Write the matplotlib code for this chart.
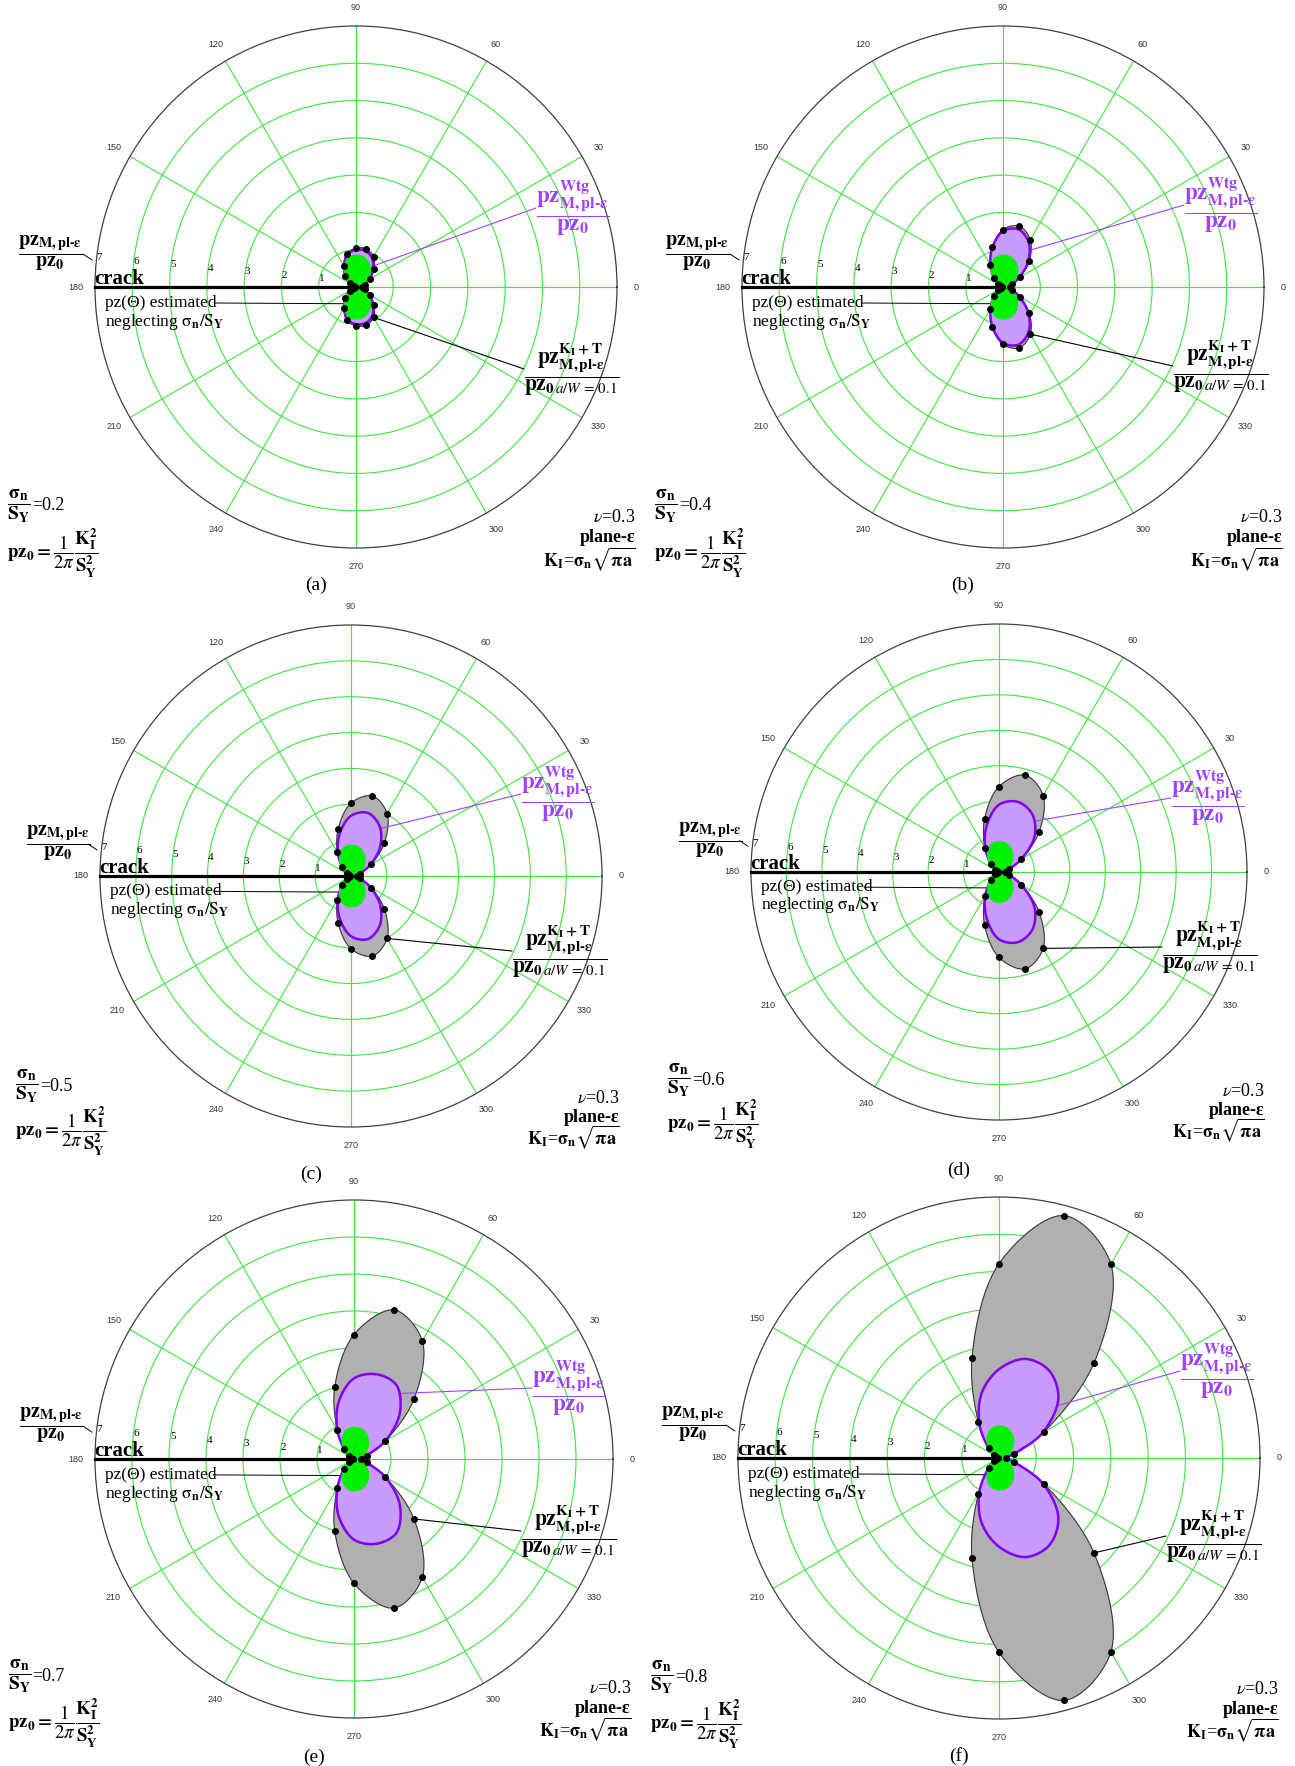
import numpy as np
import matplotlib
matplotlib.use('Agg')
import matplotlib.pyplot as plt

plt.rcParams['font.family'] = ['Liberation Serif', 'DejaVu Serif']
plt.rcParams['mathtext.fontset'] = 'stix'

W, H = 1295, 1766

# sampled angles (upper half, the lower half is the mirror image)
theta_deg = [0, 15, 30, 45, 60, 75, 90, 105, 120, 135, 150, 165, 180]

# pz(theta) estimated neglecting sigma_n/S_Y, same in every panel
green_r = [0.16, 0.22, 0.36, 0.54, 0.71, 0.82, 0.85, 0.80, 0.62, 0.40, 0.20, 0.06, 0.00]

# Westergaard plastic zone pz_Wtg / pz0
wtg_a = [0.17, 0.23, 0.40, 0.63, 0.88, 1.00, 1.00, 0.90, 0.63, 0.38, 0.18, 0.06, 0.03]
wtg_b = [0.18, 0.25, 0.50, 0.95, 1.38, 1.60, 1.50, 1.10, 0.67, 0.33, 0.14, 0.06, 0.03]
wtg_c = [0.17, 0.26, 0.63, 1.15, 1.60, 1.82, 1.68, 1.22, 0.72, 0.33, 0.14, 0.06, 0.03]
wtg_d = [0.17, 0.29, 0.73, 1.42, 1.88, 2.05, 1.90, 1.35, 0.78, 0.32, 0.14, 0.06, 0.03]
wtg_e = [0.18, 0.35, 0.98, 1.75, 2.30, 2.37, 2.18, 1.60, 0.90, 0.37, 0.15, 0.07, 0.03]
wtg_f = [0.20, 0.42, 1.35, 2.25, 2.70, 2.75, 2.38, 1.80, 1.05, 0.42, 0.15, 0.07, 0.03]

# K_I + T plastic zone, a/W = 0.1 (dots)
kt_a = [0.17, 0.24, 0.44, 0.68, 0.94, 1.06, 1.04, 0.93, 0.66, 0.40, 0.19, 0.06, 0.03]
kt_b = [0.18, 0.26, 0.52, 1.00, 1.46, 1.69, 1.54, 1.11, 0.68, 0.34, 0.14, 0.06, 0.03]
kt_c = [0.17, 0.26, 0.65, 1.32, 2.01, 2.31, 2.03, 1.37, 0.76, 0.35, 0.14, 0.06, 0.03]
kt_d = [0.17, 0.29, 0.73, 1.60, 2.49, 2.83, 2.41, 1.56, 0.79, 0.32, 0.14, 0.06, 0.03]
kt_e = [0.18, 0.35, 0.98, 2.29, 3.69, 4.17, 3.36, 2.01, 0.90, 0.37, 0.15, 0.07, 0.03]
kt_f = [0.20, 0.42, 1.39, 3.60, 6.00, 6.73, 5.21, 2.79, 1.10, 0.39, 0.15, 0.07, 0.03]

sn_values = ['0.2', '0.4', '0.5', '0.6', '0.7', '0.8']
tags = ['(a)', '(b)', '(c)', '(d)', '(e)', '(f)']
wtg_all = [wtg_a, wtg_b, wtg_c, wtg_d, wtg_e, wtg_f]
kt_all = [kt_a, kt_b, kt_c, kt_d, kt_e, kt_f]
theta_ticks = list(range(0, 360, 30))
r_ticks = [1, 2, 3, 4, 5, 6, 7]

# layout (figure pixels): panel centre and radius
centers = [(356, 287), (1003, 287), (351, 876), (999, 872), (354, 1459), (999, 1458)]
radii = [261, 261, 251, 248, 259, 261]
wtg_anchor = [51, 54, 58, 55, 55, 42]        # where the purple leader touches
kt_anchor = [300, 300, 300, 300, 315, 315]   # dot the black leader starts from
wtg_lab = [(180, 79), (181, 82), (170, 82), (172, 74), (178, 71), (181, 87)]
kt_lab = [(168, -82), (170, -79), (161, -75), (163, -75), (167, -72), (167, -78)]

GRID = '#3ee63e'
GREEN = '#00f000'
PURPLE_FILL = '#c89cff'
PURPLE_EDGE = '#8000f0'
PURPLE_TXT = '#a040ff'
GRAY = '#b0b0b0'


def full_loop(r_half):
    th = np.r_[theta_deg, [360 - t for t in theta_deg[-2:0:-1]]]
    rr = np.r_[r_half, r_half[-2:0:-1]]
    return th, rr


def smooth(r_half, n=24):
    # centripetal Catmull-Rom through the sampled points, closed loop
    th, rr = full_loop(r_half)
    t = np.deg2rad(th)
    P = np.c_[rr * np.cos(t), rr * np.sin(t)]
    N = len(P)
    out = []
    for i in range(N):
        p0, p1, p2, p3 = P[i - 1], P[i], P[(i + 1) % N], P[(i + 2) % N]
        t0 = 0.0
        t1 = t0 + max(np.linalg.norm(p1 - p0), 1e-4) ** 0.5
        t2 = t1 + max(np.linalg.norm(p2 - p1), 1e-4) ** 0.5
        t3 = t2 + max(np.linalg.norm(p3 - p2), 1e-4) ** 0.5
        s = np.linspace(t1, t2, n, endpoint=False)[:, None]
        A1 = (t1 - s) / (t1 - t0) * p0 + (s - t0) / (t1 - t0) * p1
        A2 = (t2 - s) / (t2 - t1) * p1 + (s - t1) / (t2 - t1) * p2
        A3 = (t3 - s) / (t3 - t2) * p2 + (s - t2) / (t3 - t2) * p3
        B1 = (t2 - s) / (t2 - t0) * A1 + (s - t0) / (t2 - t0) * A2
        B2 = (t3 - s) / (t3 - t1) * A2 + (s - t1) / (t3 - t1) * A3
        out.append((t2 - s) / (t2 - t1) * B1 + (s - t1) / (t2 - t1) * B2)
    C = np.vstack(out + [P[:1]])
    ang = np.unwrap(np.arctan2(C[:, 1], C[:, 0]))
    return ang, np.hypot(C[:, 0], C[:, 1])


def fpix(cx, cy, dx, dy, k=1.0):
    return (cx + dx * k) / W, 1 - (cy - dy * k) / H


LEFT_LAB = r'$\dfrac{\mathbf{pz}_{\mathbf{M,pl‐ε}}}{\mathbf{pz}_{\mathbf{0}}}$'
WTG_LAB = r'$\dfrac{\mathbf{pz}^{\mathbf{Wtg}}_{\mathbf{M,pl‐ε}}}{\mathbf{pz}_{\mathbf{0}}}$'
KT_LAB = (r'$\dfrac{\mathbf{pz}^{\mathbf{K_I+T}}_{\mathbf{M,pl‐ε}}}'
          r'{\mathbf{pz}_{\mathbf{0}\,\mathit{a/W}\,\mathrm{=\,0.1}}}$')
NEGLECT = r'neglecting $\mathrm{\sigma}_{\mathbf{n}}/\mathrm{S}_{\mathbf{Y}}$'
SN_FRAC = r'$\dfrac{\mathbf{\sigma_n}}{\mathbf{S_Y}}$'
PZ0_DEF = r'$\mathbf{pz_0=}\dfrac{1}{2\pi}\dfrac{\mathbf{K_I^2}}{\mathbf{S_Y^2}}$'
KI_DEF = r'$\mathbf{K_I}$=$\mathbf{\sigma_n}\sqrt{\mathbf{\pi a}}$'

fig = plt.figure(figsize=(W / 100, H / 100), dpi=100)
rend = fig.canvas.get_renderer()

for i in range(6):
    cx, cy = centers[i]
    R = radii[i]
    k = R / 261
    ax = fig.add_axes([(cx - R) / W, (H - cy - R) / H, 2 * R / W, 2 * R / H],
                      projection='polar')
    ax.set_ylim(0, 7)
    ax.set_axisbelow(True)
    ax.set_thetagrids(theta_ticks, [str(a) for a in theta_ticks],
                      fontsize=6.5, family='Liberation Sans', color='#333333')
    ax.tick_params(axis='x', pad=3)
    ax.set_rgrids(r_ticks, [str(r) for r in r_ticks], angle=174.5, fontsize=8)
    ax.grid(True, color=GRID, lw=0.8)
    ax.yaxis.get_gridlines()[-1].set_visible(False)
    ax.spines['polar'].set_color('#404040')
    ax.spines['polar'].set_linewidth(0.9)

    # K_I + T zone
    th, rr = smooth(kt_all[i])
    ax.fill(th, rr, color=GRAY, zorder=2)
    ax.plot(th, rr, color='#303030', lw=0.7, zorder=2.1)
    # Westergaard zone
    th, rr = smooth(wtg_all[i])
    ax.fill(th, rr, color=PURPLE_FILL, zorder=3)
    ax.plot(th, rr, color=PURPLE_EDGE, lw=1.8, zorder=3.1)
    wt, wr = th, rr
    # neglecting sigma_n/S_Y
    th, rr = smooth(green_r)
    ax.fill(th, rr, color=GREEN, ec=GREEN, lw=1.2, zorder=4)
    # dots of the K_I + T samples
    pth, pr = full_loop(kt_all[i])
    ax.plot(np.deg2rad(pth), pr, 'o', color='k', ms=4, zorder=6)
    # crack
    ax.plot([np.pi, np.pi], [0, 7], color='k', lw=2.3, zorder=7, clip_on=False)

    # texts on the left side
    fig.text(*fpix(cx, cy, -338, 34, k), LEFT_LAB, fontsize=14.5, ha='left', va='center')
    ax.annotate('', xy=fpix(cx, cy, -264, 27, k), xycoords='figure fraction',
                xytext=fpix(cx, cy, -273, 33, k), textcoords='figure fraction',
                arrowprops=dict(arrowstyle='-', lw=0.7, color='k', shrinkA=0, shrinkB=0))
    fig.text(*fpix(cx, cy, -262, 3, k), 'crack', fontsize=15, fontweight='bold',
             ha='left', va='baseline')
    fig.text(*fpix(cx, cy, -251, -16, k), 'pz(Θ) estimated', fontsize=12.5,
             ha='left', va='center')
    fig.text(*fpix(cx, cy, -251, -35, k), NEGLECT, fontsize=12.5, ha='left', va='center')
    ax.annotate('', xy=(1.5 * np.pi, 0.45), xycoords='data',
                xytext=fpix(cx, cy, -142, -16, k), textcoords='figure fraction',
                arrowprops=dict(arrowstyle='-', lw=0.7, color='k', shrinkA=0, shrinkB=0))

    # purple label + leader
    lx, ly = wtg_lab[i]
    fig.text(*fpix(cx, cy, lx, ly), WTG_LAB, fontsize=16.5, color=PURPLE_TXT,
             ha='left', va='center')
    sel = np.where(wr > 0.3)[0]
    j = sel[np.argmin(np.abs(np.rad2deg(wt[sel]) - wtg_anchor[i]))]
    ax.annotate('', xy=(wt[j], wr[j]), xycoords='data',
                xytext=fpix(cx, cy, lx, ly), textcoords='figure fraction',
                arrowprops=dict(arrowstyle='-', lw=0.8, color=PURPLE_TXT,
                                shrinkA=0, shrinkB=0))

    # K_I+T label + leader
    lx, ly = kt_lab[i]
    fig.text(*fpix(cx, cy, lx, ly), KT_LAB, fontsize=15.5, ha='left', va='center')
    j = list(pth).index(kt_anchor[i])
    ax.annotate('', xy=(np.deg2rad(pth[j]), pr[j]), xycoords='data',
                xytext=fpix(cx, cy, lx, ly), textcoords='figure fraction',
                arrowprops=dict(arrowstyle='-', lw=0.8, color='k', shrinkA=0, shrinkB=0))

    # parameter blocks
    t1 = fig.text(*fpix(cx, cy, -349, -219, k), SN_FRAC, fontsize=14,
                  ha='left', va='center')
    bb = t1.get_window_extent(renderer=rend)
    fig.text((bb.x1 + 1) / W, fpix(cx, cy, 0, -219, k)[1], '=' + sn_values[i],
             fontsize=13, ha='left', va='center')
    fig.text(*fpix(cx, cy, -349, -266, k), PZ0_DEF, fontsize=13.5,
             ha='left', va='center')
    fig.text(*fpix(cx, cy, 279, -231, k), r'$\nu$=0.3', fontsize=13,
             ha='right', va='center')
    fig.text(*fpix(cx, cy, 279, -251, k), 'plane-ε', fontsize=13, fontweight='bold',
             ha='right', va='center')
    fig.text(*fpix(cx, cy, 279, -272, k), KI_DEF, fontsize=13, ha='right', va='center')

    fig.text(*fpix(cx, cy, -40, -298), tags[i], fontsize=14, ha='center', va='center')

fig.savefig('out.png', dpi=100)
